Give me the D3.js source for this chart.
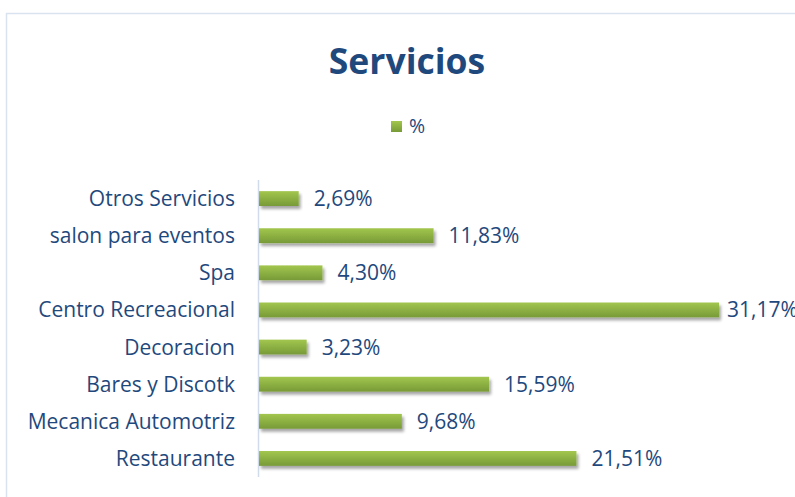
<!DOCTYPE html>
<html lang="es">
<head>
<meta charset="UTF-8">
<title>Servicios</title>
<style>
  body { margin: 0; background: #fff; }
  svg { display: block; font-family: "Open Sans", "Noto Sans", sans-serif; }
</style>
</head>
<body>
<div id="chart"></div>
<script src="https://d3js.org/d3.v7.min.js"></script>
<script>
// data (top to bottom)
const categories = ["Otros Servicios", "salon para eventos ", "Spa", "Centro Recreacional",
  "Decoracion", "Bares y Discotk", "Mecanica Automotriz", "Restaurante"];
const values = [2.69, 11.83, 4.30, 31.17, 3.23, 15.59, 9.68, 21.51];
const seriesName = "%";

const width = 795, height = 497;
const blue = "#1f497d";

const svg = d3.select("#chart").append("svg")
  .attr("width", width)
  .attr("height", height);

const defs = svg.append("defs");
const grad = defs.append("linearGradient")
  .attr("id", "barGrad").attr("x1", 0).attr("y1", 0).attr("x2", 0).attr("y2", 1);
grad.append("stop").attr("offset", "0%").attr("stop-color", "#a2c64e");
grad.append("stop").attr("offset", "100%").attr("stop-color", "#789a38");

const shadow = defs.append("filter").attr("id", "shadow")
  .attr("x", "-5%").attr("y", "-30%").attr("width", "115%").attr("height", "190%");
shadow.append("feDropShadow")
  .attr("dx", 2).attr("dy", 3).attr("stdDeviation", 1.8)
  .attr("flood-color", "#000").attr("flood-opacity", 0.35);

// chart area border
svg.append("rect")
  .attr("x", 6.5).attr("y", 13.5)
  .attr("width", 800).attr("height", 500)
  .attr("fill", "none").attr("stroke", "#d9e2ef").attr("stroke-width", 1.5);

// title
svg.append("text")
  .attr("x", 407).attr("y", 74)
  .attr("text-anchor", "middle")
  .attr("font-size", 35.5).attr("font-weight", "bold")
  .attr("fill", blue)
  .text("Servicios");

// legend
svg.append("rect")
  .attr("x", 391).attr("y", 121).attr("width", 11).attr("height", 11)
  .attr("fill", "url(#barGrad)");
svg.append("text")
  .attr("x", 409).attr("y", 133)
  .attr("font-size", 19.5).attr("fill", blue)
  .text(seriesName);

const x = d3.scaleLinear().domain([0, 31.17]).range([259, 719]);
const y = d3.scaleBand().domain(categories).range([180, 477]).paddingInner(0.6).paddingOuter(0.3);

// category axis line
svg.append("line")
  .attr("x1", 258.5).attr("x2", 258.5)
  .attr("y1", 180).attr("y2", 477)
  .attr("stroke", "#d0dcec").attr("stroke-width", 1.5);

// bars
svg.selectAll("rect.bar")
  .data(values)
  .join("rect")
  .attr("class", "bar")
  .attr("x", x(0))
  .attr("y", (d, i) => y(categories[i]))
  .attr("width", d => x(d) - x(0))
  .attr("height", y.bandwidth())
  .attr("fill", "url(#barGrad)")
  .attr("filter", "url(#shadow)");

// category labels
svg.selectAll("text.cat")
  .data(categories)
  .join("text")
  .attr("class", "cat")
  .attr("x", 235)
  .attr("y", d => y(d) + y.bandwidth() / 2)
  .attr("dy", "0.36em")
  .attr("text-anchor", "end")
  .attr("font-size", 21)
  .attr("fill", blue)
  .text(d => d);

// value labels (the longest one is pulled in, as in the original)
const fmt = v => v.toFixed(2).replace(".", ",") + "%";
svg.selectAll("text.val")
  .data(values)
  .join("text")
  .attr("class", "val")
  .attr("x", d => Math.min(x(d) + 15, 727))
  .attr("y", (d, i) => y(categories[i]) + y.bandwidth() / 2)
  .attr("dy", "0.36em")
  .attr("font-size", 21)
  .attr("fill", blue)
  .text(fmt);
</script>
</body>
</html>
